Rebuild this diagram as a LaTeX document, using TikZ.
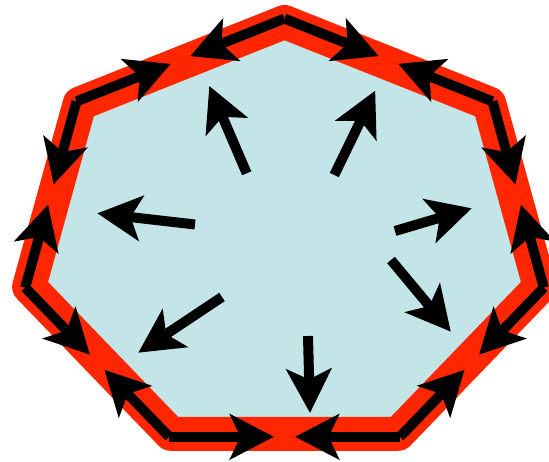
\documentclass[tikz,border=0pt]{standalone}
\usepackage{xcolor}
\usepackage{tikz}
\usetikzlibrary{arrows.meta,calc}

\definecolor{rimred}{RGB}{255,38,0}
\definecolor{cellblue}{RGB}{196,229,232}

\begin{document}
\begin{tikzpicture}[
    x=0.02cm,
    y=-0.02cm,
    >={Stealth[length=0.88cm, width=0.9cm, inset=0.21cm]},
    rim/.style={
        draw=rimred,
        fill=cellblue,
        line width=0.68cm,
        line join=round
    },
    push/.style={
        ->,
        line width=0.2cm
    },
    slide/.style={
        ->,
        line width=0.2cm
    }
]

\useasboundingbox (0,0) rectangle (549,462);
\clip (0,0) rectangle (549,462);

% Cell: red rim round the blue inside
\draw[
    rim
] (284.5,22.0) -- (79.7,103.6) -- (29.1,286.8) -- (170.8,433.8)
  -- (398.2,433.8) -- (539.9,286.8) -- (489.3,103.6) -- cycle;


% Corners of the rim arrows
\coordinate (v0) at (284.5,18.6);
\coordinate (v1) at (76.5,101.4);
\coordinate (v2) at (25.2,287.6);
\coordinate (v3) at (169.1,436.8);
\coordinate (v4) at (399.9,436.8);
\coordinate (v5) at (543.8,287.6);
\coordinate (v6) at (492.5,101.4);

\coordinate (m01) at ($(v0)!0.5!(v1)$);
\coordinate (m12) at ($(v1)!0.5!(v2)$);
\coordinate (m23) at ($(v2)!0.5!(v3)$);
\coordinate (m34) at ($(v3)!0.5!(v4)$);
\coordinate (m45) at ($(v4)!0.5!(v5)$);
\coordinate (m56) at ($(v5)!0.5!(v6)$);
\coordinate (m60) at ($(v6)!0.5!(v0)$);


% Inside: pushes out towards each side
\coordinate (aNW) at (246.7,173.3);
\coordinate (bNW) at (209.3,86.0);
\coordinate (aNE) at (334.3,175.0);
\coordinate (bNE) at (375.2,90.7);
\coordinate (aW) at (195.0,224.5);
\coordinate (bW) at (97.3,213.3);
\coordinate (aE) at (395.0,231.0);
\coordinate (bE) at (471.8,208.3);
\coordinate (aSW) at (222.0,297.0);
\coordinate (bSW) at (138.3,352.7);
\coordinate (aSE) at (391.0,260.0);
\coordinate (bSE) at (450.8,331.7);
\coordinate (aS) at (308.0,336.0);
\coordinate (bS) at (310.0,413.0);

\draw[push] (aNW) -- (bNW);
\draw[push] (aNE) -- (bNE);
\draw[push] (aW) -- (bW);
\draw[push] (aE) -- (bE);
\draw[push] (aSW) -- (bSW);
\draw[push] (aSE) -- (bSE);
\draw[push] (aS) -- (bS);


% Rim: two arrows per side, from the corners to the middle
\draw[
    slide
] (v0) -- ($(m01)!0.21cm!(v0)$);
\draw[
    slide
] (v1) -- ($(m01)!0.21cm!(v1)$);

\draw[
    slide
] (v1) -- ($(m12)!0.21cm!(v1)$);
\draw[
    slide
] (v2) -- ($(m12)!0.21cm!(v2)$);

\draw[
    slide
] (v2) -- ($(m23)!0.21cm!(v2)$);
\draw[
    slide
] (v3) -- ($(m23)!0.21cm!(v3)$);

\draw[
    slide
] (v3) -- ($(m34)!0.21cm!(v3)$);
\draw[
    slide
] (v4) -- ($(m34)!0.21cm!(v4)$);

\draw[
    slide
] (v4) -- ($(m45)!0.21cm!(v4)$);
\draw[
    slide
] (v5) -- ($(m45)!0.21cm!(v5)$);

\draw[
    slide
] (v5) -- ($(m56)!0.21cm!(v5)$);
\draw[
    slide
] (v6) -- ($(m56)!0.21cm!(v6)$);

\draw[
    slide
] (v6) -- ($(m60)!0.21cm!(v6)$);
\draw[
    slide
] (v0) -- ($(m60)!0.21cm!(v0)$);

\end{tikzpicture}
\end{document}
